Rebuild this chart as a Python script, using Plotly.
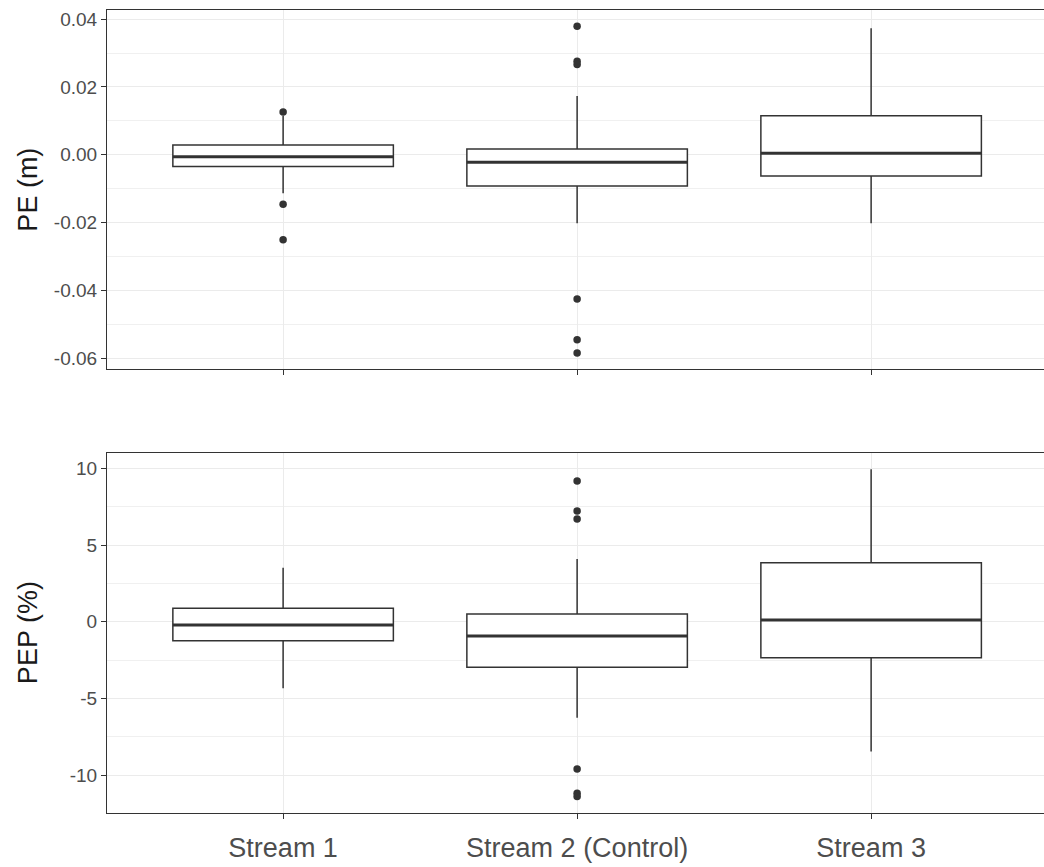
import plotly.graph_objects as go

# Streams on the x axis
streams = ["Stream 1", "Stream 2 (Control)", "Stream 3"]
positions = [0, 1, 2]

# PE (m): box summary statistics per stream
pe_lower = [-0.0114, -0.0202, -0.0202]
pe_q1 = [-0.0035, -0.0092, -0.0063]
pe_median = [-0.0006, -0.0022, 0.0004]
pe_q3 = [0.0029, 0.0017, 0.0115]
pe_upper = [0.0115, 0.0173, 0.0373]

# PE (m): outlying points
pe_out_stream = [0, 0, 0, 1, 1, 1, 1, 1, 1]
pe_out_value = [0.0126, -0.0146, -0.0251, 0.0379, 0.0276, 0.0266, -0.0426, -0.0546, -0.0585]

# PEP (%): box summary statistics per stream
pep_lower = [-4.33, -6.25, -8.46]
pep_q1 = [-1.23, -2.96, -2.34]
pep_median = [-0.21, -0.93, 0.12]
pep_q3 = [0.88, 0.51, 3.85]
pep_upper = [3.52, 4.09, 9.93]

# PEP (%): outlying points
pep_out_stream = [1, 1, 1, 1, 1, 1]
pep_out_value = [9.17, 7.22, 6.70, -9.59, -11.17, -11.39]

# y tick labels
pe_ticks = [0.04, 0.02, 0.0, -0.02, -0.04, -0.06]
pe_ticktext = ["0.04", "0.02", "0.00", "-0.02", "-0.04", "-0.06"]
pep_ticks = [10, 5, 0, -5, -10]
pep_ticktext = ["10", "5", "0", "-5", "-10"]

INK = "#333333"
GRID = "#EBEBEB"
FONT = "Liberation Sans, Arial, sans-serif"
BOX_W = 0.75

fig = go.Figure()


def add_panel(xa, ya, lower, q1, med, q3, upper, out_x, out_y):
    fig.add_trace(go.Box(
        x=positions, q1=q1, median=med, q3=q3,
        lowerfence=lower, upperfence=upper,
        width=BOX_W, whiskerwidth=0,
        fillcolor="white", line=dict(color=INK, width=1.5),
        boxpoints=False, showlegend=False, hoverinfo="skip",
        xaxis=xa, yaxis=ya,
    ))
    # heavier median bar drawn over each box
    mx, my = [], []
    for p, m in zip(positions, med):
        mx += [p - BOX_W / 2, p + BOX_W / 2, None]
        my += [m, m, None]
    fig.add_trace(go.Scatter(
        x=mx, y=my, mode="lines", line=dict(color=INK, width=3),
        showlegend=False, hoverinfo="skip", xaxis=xa, yaxis=ya,
    ))
    fig.add_trace(go.Scatter(
        x=out_x, y=out_y, mode="markers",
        marker=dict(color=INK, size=7.5),
        showlegend=False, hoverinfo="skip", xaxis=xa, yaxis=ya,
    ))


add_panel("x", "y", pe_lower, pe_q1, pe_median, pe_q3, pe_upper,
          pe_out_stream, pe_out_value)
add_panel("x2", "y2", pep_lower, pep_q1, pep_median, pep_q3, pep_upper,
          pep_out_stream, pep_out_value)

xrange = [-0.599, 2.588]
xcommon = dict(
    range=xrange, tickvals=positions, ticktext=streams,
    showgrid=True, gridcolor=GRID, gridwidth=1.3, zeroline=False,
    showline=True, linecolor=INK, linewidth=1.1, mirror=True,
    ticks="outside", ticklen=5, tickwidth=1.1, tickcolor=INK,
    tickfont=dict(family=FONT, size=27, color="#4D4D4D"),
)
ycommon = dict(
    showgrid=True, gridcolor=GRID, gridwidth=1.3, zeroline=False,
    showline=True, linecolor=INK, linewidth=1.1, mirror=False,
    ticks="outside", ticklen=5, tickwidth=1.1, tickcolor=INK,
    tickfont=dict(family=FONT, size=19, color="#4D4D4D"),
)

fig.update_layout(
    width=1044, height=867,
    margin=dict(l=107, r=0, t=10, b=54, pad=0),
    paper_bgcolor="white", plot_bgcolor="white",
    boxmode="overlay",
    xaxis=dict(**xcommon, domain=[0, 1], anchor="y", showticklabels=False),
    xaxis2=dict(**xcommon, domain=[0, 1], anchor="y2", matches="x",
                ticklabelstandoff=6),
    yaxis=dict(**ycommon, domain=[0.5526, 1.0], anchor="x",
               range=[-0.0633, 0.0427], tickvals=pe_ticks, ticktext=pe_ticktext,
               minor=dict(showgrid=True, gridcolor="#F0F0F0", gridwidth=1.0,
                          tickvals=[0.03, 0.01, -0.01, -0.03, -0.05], ticks="")),
    yaxis2=dict(**ycommon, domain=[0.0, 0.448], anchor="x2",
                range=[-12.46, 10.98], tickvals=pep_ticks, ticktext=pep_ticktext,
                minor=dict(showgrid=True, gridcolor="#F0F0F0", gridwidth=1.0,
                           tickvals=[7.5, 2.5, -2.5, -7.5], ticks="")),
    annotations=[
        dict(text="PE (m)", textangle=-90, xref="paper", yref="paper",
             x=-79 / 937, y=(0.5526 + 1.0) / 2, xanchor="center", yanchor="middle",
             showarrow=False, font=dict(family=FONT, size=27, color="#1A1A1A")),
        dict(text="PEP (%)", textangle=-90, xref="paper", yref="paper",
             x=-79 / 937, y=0.448 / 2, xanchor="center", yanchor="middle",
             showarrow=False, font=dict(family=FONT, size=27, color="#1A1A1A")),
    ],
)

fig.write_html("out.html")
